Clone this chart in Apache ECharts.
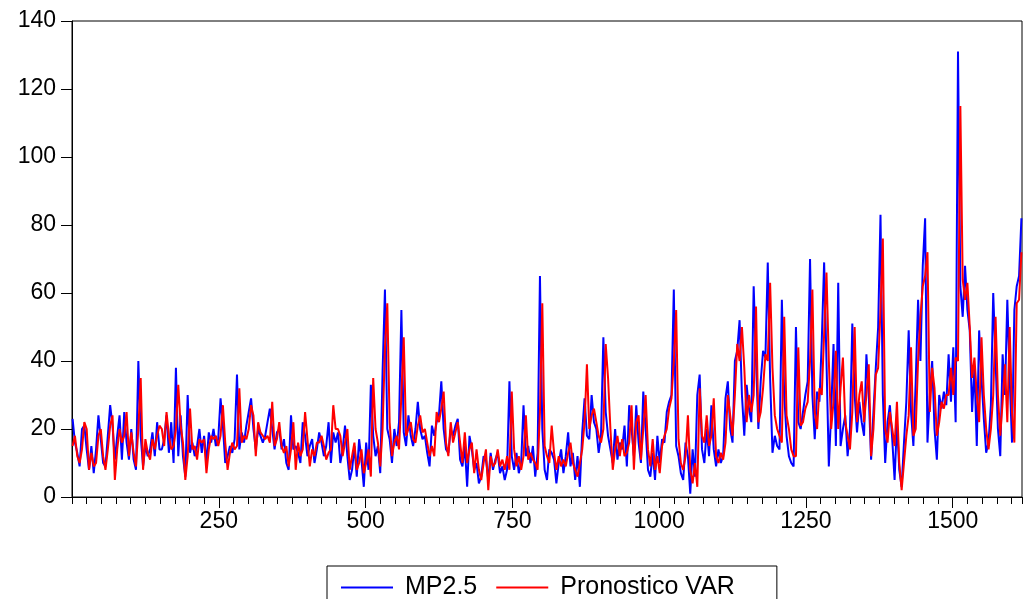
<!DOCTYPE html>
<html>
<head>
<meta charset="utf-8">
<script src="https://cdn.jsdelivr.net/npm/echarts@6/dist/echarts.min.js"></script>
<style>
html,body{margin:0;padding:0;background:#fff;}
#chart{width:1023px;height:599px;}
</style>
</head>
<body>
<div id="chart"></div>
<script>
const firstObs = 1;
const obsStep = 4;

const mp25 = [
23,16,13,9,20,21,14,8,15,7,14,24,17,10,9,18,27,21,11,18,24,11,25,16,11,20,11,8,40,18,9,15,12,14,19,12,22,14,
14,17,24,13,22,10,38,12,24,12,6,30,13,16,12,15,20,13,18,10,19,16,20,15,17,29,21,10,12,15,13,17,36,14,19,16,21,25,
29,20,14,20,18,16,18,22,26,20,14,19,20,14,17,10,8,24,14,15,13,10,22,18,12,15,17,10,14,19,16,12,15,22,10,19,16,
19,10,14,21,12,5,8,15,6,17,11,3,16,8,33,18,12,15,7,37,61,20,17,10,20,15,22,55,19,15,24,18,15,20,28,20,17,
18,13,9,21,18,22,24,34,20,14,13,20,18,21,23,11,9,15,3,18,14,8,10,4,6,12,11,5,13,8,11,13,7,9,5,8,34,12,
8,13,7,10,27,12,15,10,15,6,13,65,20,8,5,14,13,11,4,10,14,7,12,19,9,13,5,12,3,19,29,18,17,30,22,20,13,
18,47,25,18,14,10,20,11,16,14,21,9,27,20,12,27,16,10,31,20,8,6,13,5,18,10,17,16,25,28,30,61,15,12,7,5,16,
12,1,14,6,30,36,14,10,20,12,27,14,9,14,10,12,29,34,20,16,40,43,52,30,18,33,26,22,62,40,20,34,43,41,69,35,13,
18,15,14,58,30,18,12,10,9,50,22,20,25,30,34,70,30,17,31,28,46,69,40,9,25,45,15,63,15,20,24,12,20,51,30,19,28,
22,18,42,30,11,25,38,50,83,30,10,22,27,17,5,22,8,3,16,28,49,25,15,34,58,40,68,82,16,30,40,20,11,30,26,31,27,
42,28,44,22,131,62,53,68,55,49,25,38,15,49,35,23,13,16,27,60,40,20,12,42,30,58,35,16,55,62,65,82
];

const pronosticoVar = [
15,18,12,10,14,22,20,8,13,9,10,18,20,12,8,14,21,24,5,14,20,16,18,25,12,19,13,9,20,35,8,17,13,11,17,14,18,21,
20,15,25,18,14,15,20,33,21,16,5,12,26,14,15,11,17,16,17,7,14,18,17,18,15,18,27,16,8,13,16,14,15,32,16,18,17,20,
27,24,12,22,19,18,17,18,16,28,15,17,22,15,13,15,9,14,22,8,16,12,14,25,17,9,14,12,16,16,18,15,11,13,14,27,20,
20,18,12,16,20,8,12,16,8,10,14,7,10,14,6,35,20,16,9,20,44,57,22,12,16,18,14,30,47,18,20,22,17,16,21,24,19,
20,16,12,15,12,25,22,26,31,16,12,22,16,19,22,16,10,19,10,14,16,7,14,8,5,10,14,2,12,9,10,14,9,11,8,12,8,31,
14,9,12,8,12,24,11,13,11,10,8,25,57,15,12,10,21,13,8,12,9,11,9,13,16,10,8,6,10,14,22,39,20,24,26,22,18,
16,20,45,35,20,8,14,18,12,17,12,13,16,27,8,22,24,11,20,30,14,9,17,8,12,7,15,18,20,26,29,40,55,17,10,8,12,
24,8,4,10,3,32,18,16,24,15,18,29,12,10,13,11,16,30,24,18,30,45,40,50,38,22,30,25,30,56,22,25,32,42,40,63,38,
24,20,18,16,53,24,20,14,12,12,44,21,22,26,28,40,61,25,20,32,30,48,66,40,20,28,43,20,32,41,22,18,14,25,50,22,30,
34,22,30,39,12,20,36,38,55,76,20,16,25,20,15,28,10,2,10,18,24,44,18,20,40,53,62,65,72,25,38,32,18,22,28,26,30,
30,38,30,41,40,115,64,58,63,50,35,41,30,22,47,30,20,14,20,30,53,30,18,28,39,22,50,25,16,57,58,72
];

const seriesNames = ['MP2.5', 'Pronostico VAR'];
const xMin = 0, xMax = 1618, xInterval = 250, xMinorInterval = 25;
const yMin = 0, yMax = 140, yInterval = 20;

const obs = mp25.map((_, i) => firstObs + obsStep * i);
const toPairs = arr => arr.map((v, i) => [obs[i], v]);

const FONT = '"Liberation Sans", Arial, sans-serif';
const chart = echarts.init(document.getElementById('chart'), null, {renderer: 'canvas'});
chart.setOption({
  backgroundColor: '#ffffff',
  animation: false,
  grid: {left: 72, right: 1, top: 21, bottom: 102, show: true, borderColor: '#000', borderWidth: 1, backgroundColor: 'transparent'},
  legend: {
    left: 327, top: 566,
    icon: 'rect',
    itemWidth: 52, itemHeight: 2, itemGap: 19,
    borderColor: '#000', borderWidth: 1,
    padding: [9, 42, 10, 14],
    textStyle: {fontFamily: FONT, fontSize: 25, color: '#000', padding: [0, 6, 0, 7]},
    data: seriesNames
  },
  xAxis: [{
    type: 'value', min: xMin, max: xMax, interval: xInterval,
    axisLine: {show: true, lineStyle: {color: '#000', width: 1}},
    axisTick: {show: true, inside: false, length: 11, lineStyle: {color: '#000'}},
    axisLabel: {showMinLabel: false, showMaxLabel: false, fontFamily: FONT, fontSize: 23, color: '#000', margin: 13,
      formatter: v => String(v)},
    splitLine: {show: false}
  }, {
    type: 'value', min: xMin, max: xMax, interval: xMinorInterval, position: 'bottom',
    axisLine: {show: false},
    axisTick: {show: true, inside: false, length: 7, lineStyle: {color: '#000'}},
    axisLabel: {show: false},
    splitLine: {show: false}
  }],
  yAxis: {
    type: 'value', min: yMin, max: yMax, interval: yInterval,
    axisLine: {show: true, lineStyle: {color: '#000', width: 1}},
    axisTick: {show: true, inside: false, length: 11, lineStyle: {color: '#000'}},
    axisLabel: {fontFamily: FONT, fontSize: 23, color: '#000', margin: 16},
    splitLine: {show: false}
  },
  series: [{
    name: seriesNames[0], type: 'line', xAxisIndex: 0, symbol: 'none', showSymbol: false,
    lineStyle: {color: '#0000ff', width: 2}, itemStyle: {color: '#0000ff'},
    data: toPairs(mp25)
  }, {
    name: seriesNames[1], type: 'line', xAxisIndex: 0, symbol: 'none', showSymbol: false,
    lineStyle: {color: '#ff0000', width: 2}, itemStyle: {color: '#ff0000'},
    data: toPairs(pronosticoVar)
  }]
});
</script>
</body>
</html>
